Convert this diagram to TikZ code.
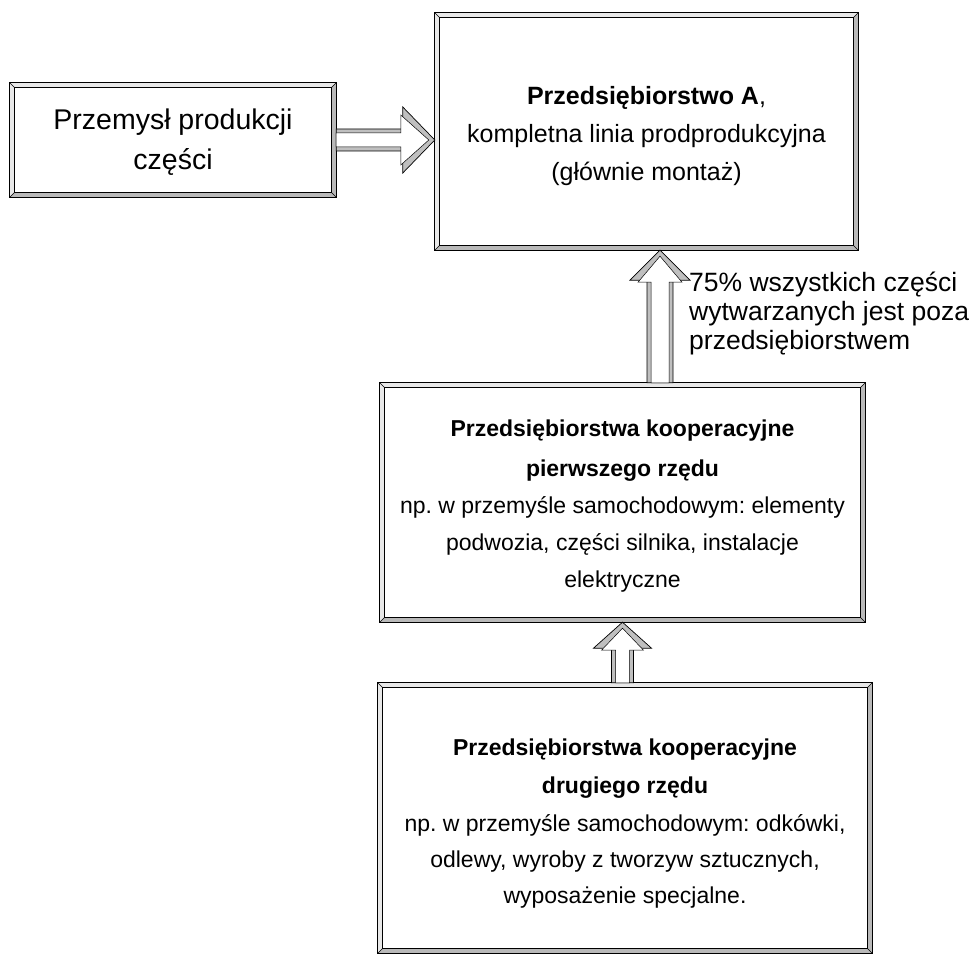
\documentclass[tikz,border=0pt]{standalone}
\usepackage{fontspec}
\setmainfont{Liberation Sans}
\frenchspacing
\usetikzlibrary{calc}
\tikzset{
  boxnode/.style={rectangle, inner sep=0pt, align=center},
  bandlight/.style={fill=gray!18},
  banddark/.style={fill=gray!55},
  frameline/.style={draw=black, line width=0.7pt},
}
\newcommand\bevel[1]{%
  \coordinate (onw) at (#1.north west);
  \coordinate (one) at (#1.north east);
  \coordinate (ose) at (#1.south east);
  \coordinate (osw) at (#1.south west);
  \coordinate (inw) at ([shift={(5,5)}]#1.north west);
  \coordinate (ine) at ([shift={(-5,5)}]#1.north east);
  \coordinate (ise) at ([shift={(-5,-5)}]#1.south east);
  \coordinate (isw) at ([shift={(5,-5)}]#1.south west);
  \path[bandlight] (onw) -- (one) -- (ine) -- (inw) -- cycle;
  \path[bandlight] (onw) -- (inw) -- (isw) -- (osw) -- cycle;
  \path[banddark] (osw) -- (isw) -- (ise) -- (ose) -- cycle;
  \path[banddark] (one) -- (ose) -- (ise) -- (ine) -- cycle;
  \draw[frameline] (onw) rectangle (ose);
  \draw[frameline] (inw) rectangle (ise);
  \draw[line width=0.4pt] (onw) -- (inw) (one) -- (ine) (ose) -- (ise) (osw) -- (isw);
}
% #1 tail, #2 tip, #3 shaft half width, #4 head half width, #5 head length
\newcommand\blockarr[5]{%
  \coordinate (hb) at ($(#2)!#5!(#1)$);
  \coordinate (hbi) at ($(#2)!#5+2pt!(#1)$);
  \coordinate (tipi) at ($(#2)!6pt!(#1)$);
  \filldraw[fill=gray!50, frameline]
    ($(#1)!#3!90:(#2)$) -- ($(hb)!#3!-90:(#1)$) -- ($(hb)!#4!-90:(#1)$) -- (#2)
    -- ($(hb)!#4!90:(#1)$) -- ($(hb)!#3!90:(#1)$) -- ($(#1)!#3!-90:(#2)$) -- cycle;
  \filldraw[fill=white, draw=black, line width=0.5pt]
    ($(#1)!#3-4pt!90:(#2)$) -- ($(hbi)!#3-4pt!-90:(#1)$) -- ($(hbi)!#4-8pt!-90:(#1)$) -- (tipi)
    -- ($(hbi)!#4-8pt!90:(#1)$) -- ($(hbi)!#3-4pt!90:(#1)$) -- ($(#1)!#3-4pt!-90:(#2)$) -- cycle;
}
\begin{document}
\begin{tikzpicture}[x=1pt, y=-1pt]
  \useasboundingbox (0,0) rectangle (980,957);
  \fill[white] (0,0) rectangle (980,957);

  \node[boxnode, minimum width=326pt, minimum height=114pt,
        font=\fontsize{28.5}{40}\selectfont] (ind) at (173,140)
        {\rule{0pt}{24.5pt}Przemysł produkcji\\części};
  \node[boxnode, minimum width=423pt, minimum height=237pt,
        font=\fontsize{25}{38}\selectfont] (A) at (646.5,131.5)
        {\rule{0pt}{28pt}\textbf{Przedsiębiorstwo A},\\kompletna linia prodprodukcyjna\\(głównie montaż)};
  \node[boxnode, minimum width=485pt, minimum height=239pt,
        font=\fontsize{23}{37}\selectfont] (T1) at (622.5,502.5)
        {\rule{0pt}{23pt}\textbf{Przedsiębiorstwa kooperacyjne}\\[3pt]\textbf{pierwszego rzędu}\\np. w przemyśle samochodowym: elementy\\podwozia, części silnika, instalacje\\elektryczne};
  \node[boxnode, minimum width=494pt, minimum height=270pt,
        font=\fontsize{23}{36}\selectfont] (T2) at (625,818)
        {\rule{0pt}{28pt}\textbf{Przedsiębiorstwa kooperacyjne}\\[2pt]\textbf{drugiego rzędu}\\[2pt]np. w przemyśle samochodowym: odkówki,\\odlewy, wyroby z tworzyw sztucznych,\\wyposażenie specjalne.};

  \bevel{ind}
  \bevel{A}
  \bevel{T1}
  \bevel{T2}

  \coordinate (h1tail) at (ind.east);
  \coordinate (h1tip) at (A.west |- ind.east);
  \blockarr{h1tail}{h1tip}{11pt}{33pt}{32pt}

  \coordinate (v1tip) at ([xshift=13.5pt]A.south);
  \coordinate (v1tail) at (v1tip |- T1.north);
  \blockarr{v1tail}{v1tip}{13pt}{30pt}{30pt}

  \coordinate (v2tip) at (T1.south);
  \coordinate (v2tail) at (v2tip |- T2.north);
  \blockarr{v2tail}{v2tip}{11pt}{29pt}{26pt}

  \node[anchor=west, align=left, inner sep=0pt,
        font=\fontsize{26.5}{29}\selectfont] (lab) at (689,314)
        {75\% wszystkich części\\wytwarzanych jest poza\\przedsiębiorstwem};
\end{tikzpicture}
\end{document}
